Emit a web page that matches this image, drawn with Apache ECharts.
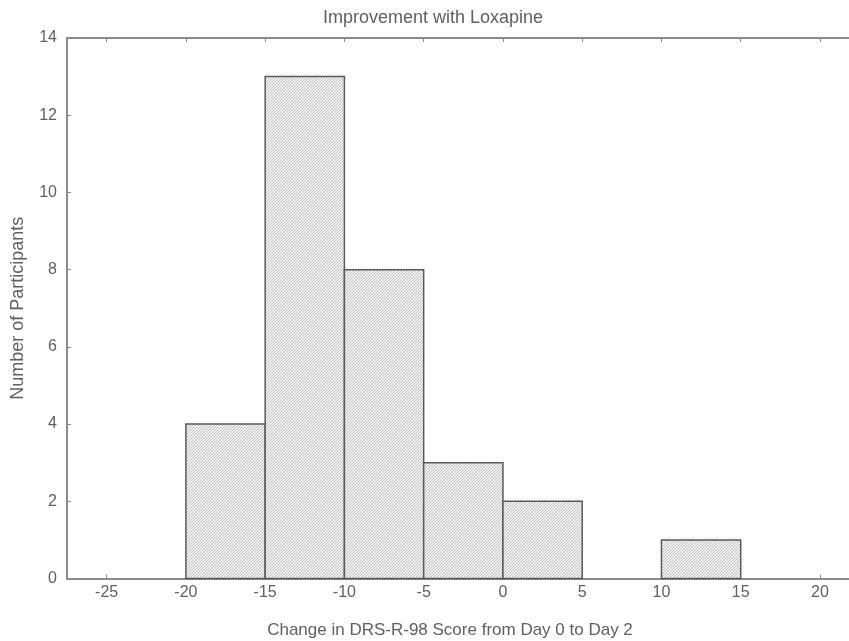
<!DOCTYPE html>
<html>
<head>
<meta charset="utf-8">
<script src="https://cdn.jsdelivr.net/npm/echarts@6/dist/echarts.min.js"></script>
<style>
html, body { margin: 0; padding: 0; background: #fff; }
#main { width: 849px; height: 641px; }
</style>
</head>
<body>
<div id="main"></div>
<script>
var binStart = [-20, -15, -10, -5, 0, 5, 10];
var binEnd = [-15, -10, -5, 0, 5, 10, 15];
var counts = [4, 13, 8, 3, 2, 0, 1];
var xTicks = [-25, -20, -15, -10, -5, 0, 5, 10, 15, 20];
var yTicks = [0, 2, 4, 6, 8, 10, 12, 14];

// diagonal hatch like the original fill
var pat = document.createElement('canvas');
pat.width = 3;
pat.height = 3;
var pctx = pat.getContext('2d');
pctx.fillStyle = '#f2f2f2';
pctx.fillRect(0, 0, 3, 3);
pctx.fillStyle = '#bdbdbd';
for (var i = 0; i < 3; i++) {
    pctx.fillRect(i, 2 - i, 1, 1);
}

var data = [];
for (var k = 0; k < counts.length; k++) {
    data.push([binStart[k], binEnd[k], counts[k]]);
}

var chart = echarts.init(document.getElementById('main'));
var axisColor = '#8a8a8a';
var textColor = '#606060';
// the plot runs past the right edge of the picture, so the visible part stops near 21.8
var xMin = -27.5, xMax = 21.83;
chart.setOption({
    animation: false,
    title: {
        text: 'Improvement with Loxapine',
        left: 428,
        textAlign: 'center',
        top: 4,
        textStyle: { fontFamily: 'Liberation Sans', fontSize: 18, fontWeight: 'normal', color: textColor }
    },
    grid: { left: 67, right: 0, top: 38, height: 540.5, outerBoundsMode: 'none' },
    xAxis: [{
        type: 'value',
        min: xMin,
        max: xMax,
        position: 'bottom',
        name: 'Change in DRS-R-98 Score from Day 0 to Day 2',
        nameLocation: 'middle',
        nameGap: 43,
        nameTextStyle: { fontFamily: 'Liberation Sans', fontSize: 17, color: textColor, padding: [0, 16, 0, 0] },
        axisLine: { lineStyle: { color: axisColor, width: 2 } },
        axisTick: { inside: true, length: 4, lineStyle: { color: axisColor }, customValues: xTicks },
        axisLabel: { fontFamily: 'Liberation Sans', fontSize: 16, color: textColor, margin: 6, customValues: xTicks },
        splitLine: { show: false }
    }, {
        type: 'value',
        min: xMin,
        max: xMax,
        position: 'top',
        axisLine: { show: true, onZero: false, lineStyle: { color: axisColor, width: 2 } },
        axisTick: { inside: true, length: 4, lineStyle: { color: axisColor }, customValues: xTicks },
        axisLabel: { show: false },
        splitLine: { show: false }
    }],
    yAxis: {
        type: 'value',
        min: 0,
        max: 14,
        name: 'Number of Participants',
        nameLocation: 'middle',
        nameGap: 40,
        nameTextStyle: { fontFamily: 'Liberation Sans', fontSize: 18, color: textColor },
        axisLine: { show: true, onZero: false, lineStyle: { color: axisColor, width: 2 } },
        axisTick: { show: true, inside: true, length: 4, lineStyle: { color: axisColor }, customValues: yTicks },
        axisLabel: { fontFamily: 'Liberation Sans', fontSize: 16, color: textColor, margin: 10, customValues: yTicks },
        splitLine: { show: false }
    },
    series: [{
        type: 'custom',
        xAxisIndex: 0,
        data: data,
        renderItem: function (params, api) {
            if (api.value(2) <= 0) return null;
            var p0 = api.coord([api.value(0), api.value(2)]);
            var p1 = api.coord([api.value(1), 0]);
            return {
                type: 'rect',
                shape: { x: p0[0], y: p0[1], width: p1[0] - p0[0], height: p1[1] - p0[1] },
                style: { fill: { image: pat, repeat: 'repeat' }, stroke: '#5a5a5a', lineWidth: 1.5 }
            };
        }
    }]
});
</script>
</body>
</html>
